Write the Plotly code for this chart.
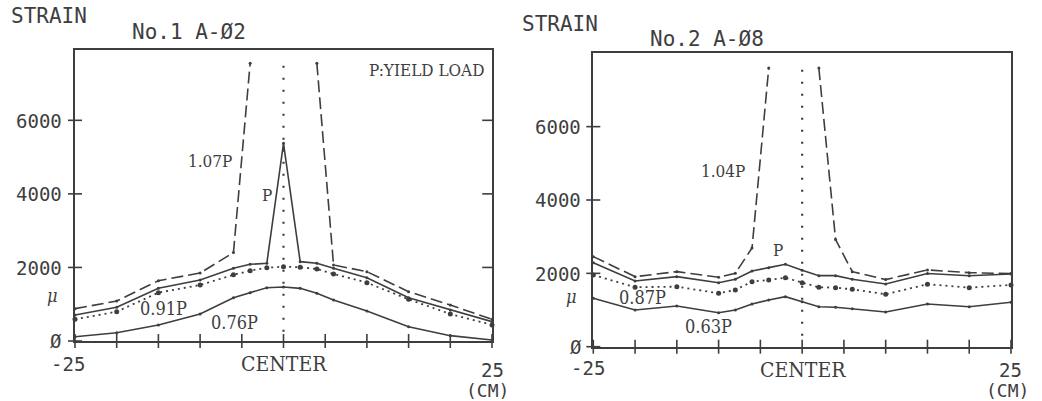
import plotly.graph_objects as go

W, H = 1042, 401

# ---------------- data: chart 1 (No.1 A-02) ----------------
x1 = [-25, -20, -15, -10, -6, -4, -2, 0, 2, 4, 6, 10, 15, 20, 25]
s1_076 = [117, 226, 435, 734, 1178, 1314, 1450, 1470, 1432, 1296, 1115, 816, 390, 145, 27]
s1_091 = [590, 797, 1314, 1523, 1800, 1912, 1994, 2021, 2003, 1958, 1822, 1586, 1133, 734, 435]
s1_P = [707, 916, 1432, 1659, 1976, 2085, 2112, 5375, 2157, 2112, 1976, 1722, 1178, 843, 526]
s1_107 = [880, 1085, 1640, 1850, 2405, 7550, None, None, None, 7550, 2066, 1885, 1341, 979, 590]
c1_y = [250, 7550]

# ---------------- data: chart 2 (No.2 A-08) ----------------
x2 = [-25, -20, -15, -10, -8, -6, -4, -2, 0, 2, 4, 6, 10, 15, 20, 25]
s2_063 = [1321, 1001, 1110, 928, 1001, 1165, 1274, 1364, 1228, 1091, 1075, 1037, 947, 1165, 1091, 1211]
s2_087 = [1956, 1621, 1637, 1457, 1547, 1774, 1820, 1883, 1746, 1621, 1610, 1566, 1430, 1703, 1610, 1684]
s2_P = [2292, 1793, 1910, 1746, 1839, 2065, 2156, 2248, 2083, 1937, 1937, 1839, 1711, 1997, 1933, 1984]
s2_104 = [2456, 1910, 2046, 1893, 2003, 2690, 7596, None, None, 7596, 2920, 2046, 1830, 2093, 2019, 1994]
c2_y = [300, 7600]

x_ticks = [-25, -20, -15, -10, -5, 0, 5, 10, 15, 20, 25]
y_ticks = [0, 2000, 4000, 6000]
y_ticks_inner = [2000, 4000, 6000]

INK = "#3e3e3e"
SANS = "DejaVu Sans Mono, monospace"
SERIF = "DejaVu Serif Condensed, Liberation Serif, serif"

fig = go.Figure()


def add_series(x, y, xa, ya, dash, width=1.6, msize=3):
    fig.add_trace(go.Scatter(
        x=x, y=y, xaxis=xa, yaxis=ya, mode="lines+markers",
        line=dict(color=INK, width=width, dash=dash),
        marker=dict(color=INK, size=msize, symbol="circle"),
        connectgaps=False, showlegend=False, hoverinfo="skip", cliponaxis=False))


for (xa, ya, xs, series, cy) in [
    ("x", "y", x1, [(s1_076, "solid", 1.6, 3), (s1_091, "2px,4px", 1.8, 5),
                    (s1_P, "solid", 1.6, 3), (s1_107, "12px,5px", 1.6, 3)], c1_y),
    ("x2", "y2", x2, [(s2_063, "solid", 1.6, 3), (s2_087, "2px,4px", 1.8, 5),
                      (s2_P, "solid", 1.6, 3), (s2_104, "12px,5px", 1.6, 3)], c2_y),
]:
    for y, d, w, m in series:
        add_series(xs, y, xa, ya, d, w, m)
    # center dotted line
    fig.add_trace(go.Scatter(
        x=[0, 0], y=cy, xaxis=xa, yaxis=ya, mode="lines",
        line=dict(color=INK, width=2.2, dash="2px,10px"),
        showlegend=False, hoverinfo="skip"))
    # crossing ticks on x axis
    fig.add_trace(go.Scatter(
        x=x_ticks, y=[0] * len(x_ticks), xaxis=xa, yaxis=ya, mode="markers",
        marker=dict(symbol="line-ns", size=10, line=dict(color=INK, width=1.6)),
        showlegend=False, hoverinfo="skip", cliponaxis=False))
    # crossing ticks on left y axis
    fig.add_trace(go.Scatter(
        x=[-25] * len(y_ticks), y=y_ticks, xaxis=xa, yaxis=ya, mode="markers",
        marker=dict(symbol="line-ew", size=10, line=dict(color=INK, width=1.6)),
        showlegend=False, hoverinfo="skip", cliponaxis=False))

# inward ticks on right side of chart 1
fig.add_trace(go.Scatter(
    x=[25] * len(y_ticks_inner), y=y_ticks_inner, xaxis="x", yaxis="y", mode="markers",
    marker=dict(symbol="line-ew", size=14, line=dict(color=INK, width=1.6)),
    showlegend=False, hoverinfo="skip", cliponaxis=True))


def dom(a, b, total):
    return [a / total, b / total]


axis_common = dict(showgrid=False, zeroline=False, showline=True, mirror=True,
                   linecolor=INK, linewidth=1.8, ticks="", showticklabels=False)

fig.update_layout(
    width=W, height=H, margin=dict(l=0, r=0, t=0, b=0),
    paper_bgcolor="white", plot_bgcolor="white", showlegend=False,
    xaxis=dict(domain=dom(75, 492, W), range=[-25, 25], **axis_common),
    yaxis=dict(domain=[1 - 341 / H, 1 - 50 / H], range=[0, 7912], anchor="x", **axis_common),
    xaxis2=dict(domain=dom(593.3, 1011, W), range=[-25, 25], anchor="y2", **axis_common),
    yaxis2=dict(domain=[1 - 346.7 / H, 1 - 53.3 / H], range=[0, 8000], anchor="x2", **axis_common),
)


def txt(s, x, y, size, font=SANS, xanchor="center", italic=False):
    fig.add_annotation(
        text=s, x=x / W, y=1 - y / H, xref="paper", yref="paper",
        xanchor=xanchor, yanchor="middle", showarrow=False,
        font=dict(family=font, size=size, color=INK,
                  style="italic" if italic else "normal"))


# chart 1 texts
txt("STRAIN", 49, 16, 21)
txt("No.1 A-Ø2", 189, 32, 21)
txt("P:YIELD LOAD", 486, 70, 17, SERIF, xanchor="right")
txt("6000", 64, 120.5, 19, xanchor="right")
txt("4000", 64, 194, 19, xanchor="right")
txt("2000", 64, 267.5, 19, xanchor="right")
txt("μ", 52, 295, 18, SERIF, italic=True)
txt("Ø", 64, 341, 19, xanchor="right")
txt("-25", 68, 364, 19)
txt("CENTER", 284, 364, 21, SERIF)
txt("25", 492, 370, 19)
txt("(CM)", 487, 390, 18)
txt("1.07P", 210, 161, 17, SERIF)
txt("P", 267, 195, 17, SERIF)
txt("0.91P", 163, 308, 18, SERIF)
txt("0.76P", 234, 322, 18, SERIF)

# chart 2 texts
txt("STRAIN", 560, 24, 21)
txt("No.2 A-Ø8", 707, 39, 21)
txt("6000", 583, 127, 19, xanchor="right")
txt("4000", 583, 200, 19, xanchor="right")
txt("2000", 583, 273.5, 19, xanchor="right")
txt("μ", 571, 296, 18, SERIF, italic=True)
txt("Ø", 584, 346.7, 19, xanchor="right")
txt("-25", 588, 368, 19)
txt("CENTER", 803, 370, 21, SERIF)
txt("25", 1010, 370, 19)
txt("(CM)", 1007, 390, 18)
txt("1.04P", 723, 171, 17, SERIF)
txt("P", 778, 250, 17, SERIF)
txt("0.87P", 642, 297, 18, SERIF)
txt("0.63P", 708, 326, 18, SERIF)

fig.write_html("out.html")
